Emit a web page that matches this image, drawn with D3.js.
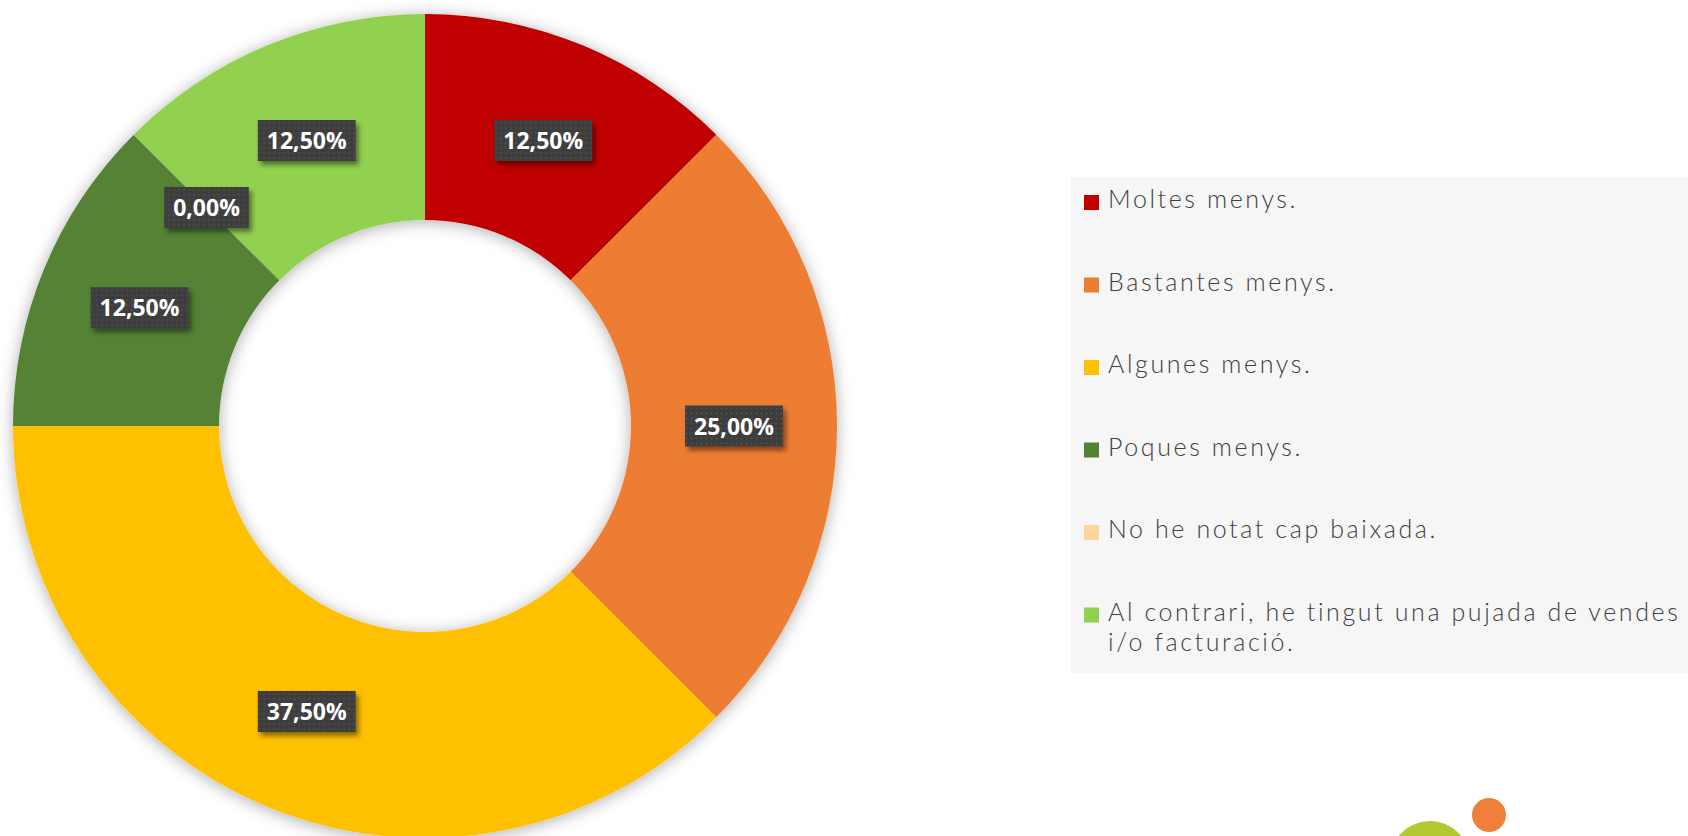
<!DOCTYPE html>
<html>
<head>
<meta charset="utf-8">
<script src="https://cdn.jsdelivr.net/npm/d3@7"></script>
<style>
  html, body { margin: 0; padding: 0; background: #ffffff; }
  svg { display: block; }
</style>
</head>
<body>
<svg id="chart" width="1688" height="836"></svg>
<script>
// ---- Data ----
const categories = [
  "Moltes menys.",
  "Bastantes menys.",
  "Algunes menys.",
  "Poques menys.",
  "No he notat cap baixada.",
  "Al contrari, he tingut una pujada de vendes i/o facturació."
];
const values = [12.5, 25, 37.5, 12.5, 0, 12.5];
const colors = ["#C00000", "#ED7D31", "#FFC000", "#548235", "#FFD699", "#92D050"];

// ---- Layout ----
const W = 1688, H = 836;
const cx = 425, cy = 426;
const outerR = 412, innerR = 206;

const svg = d3.select("#chart");
const defs = svg.append("defs");

// soft shadow around the ring (falls outside and into the hole)
const ringShadow = defs.append("filter").attr("id", "ringShadow")
  .attr("x", "-10%").attr("y", "-10%").attr("width", "120%").attr("height", "120%");
ringShadow.append("feDropShadow")
  .attr("dx", 0).attr("dy", 2).attr("stdDeviation", 8)
  .attr("flood-color", "#000").attr("flood-opacity", 0.32);

// shadow for label boxes
const boxShadow = defs.append("filter").attr("id", "boxShadow")
  .attr("x", "-20%").attr("y", "-30%").attr("width", "150%").attr("height", "170%");
boxShadow.append("feDropShadow")
  .attr("dx", 3).attr("dy", 4).attr("stdDeviation", 2.5)
  .attr("flood-color", "#000").attr("flood-opacity", 0.45);

// dotted texture for label boxes
const pat = defs.append("pattern").attr("id", "dots")
  .attr("width", 5).attr("height", 5).attr("patternUnits", "userSpaceOnUse");
pat.append("rect").attr("width", 5).attr("height", 5).attr("fill", "#3e3e3e");
pat.append("circle").attr("cx", 2.5).attr("cy", 2.5).attr("r", 0.8).attr("fill", "#575757");

const color = d3.scaleOrdinal().domain(categories).range(colors);

const pie = d3.pie().sort(null).value(d => d.value);
const data = categories.map((c, i) => ({ name: c, value: values[i] }));
const arcs = pie(data);

const arc = d3.arc().innerRadius(innerR).outerRadius(outerR);

const g = svg.append("g").attr("transform", `translate(${cx},${cy})`);

g.append("g").attr("filter", "url(#ringShadow)")
  .selectAll("path")
  .data(arcs.filter(d => d.value > 0))
  .join("path")
  .attr("d", arc)
  .attr("fill", d => color(d.data.name));

// labels
const fmt = v => d3.format(".2f")(v).replace(".", ",") + "%";
const lbl = g.append("g").selectAll("g")
  .data(arcs)
  .join("g")
  .attr("transform", d => `translate(${arc.centroid(d)})`);

lbl.append("text")
  .attr("text-anchor", "middle")
  .attr("y", 8.5)
  .attr("font-family", "'Open Sans', 'DejaVu Sans', sans-serif")
  .attr("font-weight", 700)
  .attr("font-size", 23)
  .attr("fill", "#ffffff")
  .text(d => fmt(d.data.value));

lbl.each(function() {
  const gg = d3.select(this);
  const t = gg.select("text");
  const w = t.node().getComputedTextLength() + 18;
  gg.insert("rect", "text")
    .attr("x", -w / 2).attr("y", -20.5)
    .attr("width", w).attr("height", 41)
    .attr("fill", "url(#dots)")
    .attr("filter", "url(#boxShadow)");
});

// ---- Legend ----
const legX = 1071, legY = 177, legH = 496;
svg.append("rect")
  .attr("x", legX).attr("y", legY)
  .attr("width", W - legX + 10).attr("height", legH)
  .attr("fill", "#f6f6f6");

const legendY = d3.scaleLinear().domain([0, categories.length - 1]).range([195, 607.5]);
const legend = svg.append("g");
const maxTextW = 592;

const items = legend.selectAll("g")
  .data(categories)
  .join("g")
  .attr("transform", (d, i) => `translate(1084,${legendY(i)})`);

items.append("rect")
  .attr("width", 15).attr("height", 15)
  .attr("fill", d => color(d));

items.append("text")
  .attr("x", 24)
  .attr("y", 13)
  .attr("font-family", "Lato, 'Noto Sans', sans-serif")
  .attr("font-weight", 300)
  .attr("font-size", 25)
  .attr("fill", "#404040")
  .attr("letter-spacing", 2.6)
  .each(function(d) {
    const t = d3.select(this);
    const words = d.split(" ");
    let line = [];
    let ts = t.append("tspan").attr("x", 24).attr("dy", 0);
    words.forEach(w => {
      line.push(w);
      ts.text(line.join(" "));
      if (ts.node().getComputedTextLength() > maxTextW && line.length > 1) {
        line.pop();
        ts.text(line.join(" "));
        line = [w];
        ts = t.append("tspan").attr("x", 24).attr("dy", 30).text(w);
      }
    });
  });

// ---- Logo fragment (bottom right) ----
const logo = svg.append("g");
logo.append("path")
  .attr("d", d3.arc()({ innerRadius: 24, outerRadius: 40, startAngle: -Math.PI / 2, endAngle: Math.PI / 2 }))
  .attr("transform", "translate(1430,861)")
  .attr("fill", "#B4C832");
logo.append("circle")
  .attr("cx", 1489).attr("cy", 815).attr("r", 17)
  .attr("fill", "#F07F3C");
</script>
</body>
</html>
